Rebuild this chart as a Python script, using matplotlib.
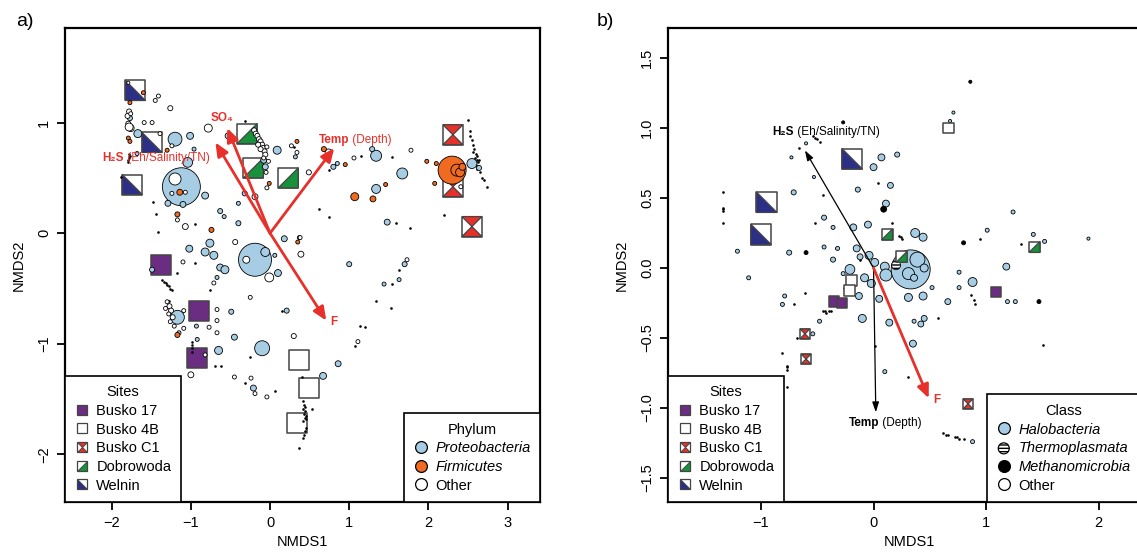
import numpy
import matplotlib
matplotlib.use("Agg")
from matplotlib import pyplot
from matplotlib.lines import Line2D
from matplotlib.legend_handler import HandlerTuple

pyplot.rcParams['font.family'] = ['Liberation Sans', 'DejaVu Sans']

# -----------------------------------------------------------------------------
# colours
PURPLE = '#6b2d82'
NAVY = '#2b2f86'
GREEN = '#17913c'
RED = '#e8302a'
ORANGE = '#f06a21'
BLUE = '#a6cde4'
EDGE = '#444444'

# -----------------------------------------------------------------------------
# panel a) bacteria -- sites (NMDS1, NMDS2)
a_busko17 = [(-1.38, -0.29), (-0.90, -0.70), (-0.92, -1.13)]
a_busko4b = [(0.37, -1.15), (0.49, -1.40), (0.34, -1.72)]
a_buskoc1 = [(2.31, 0.89), (2.31, 0.42), (2.55, 0.06)]
a_dobrowoda = [(-0.29, 0.90), (-0.21, 0.59), (0.23, 0.50)]
a_welnin = [(-1.70, 1.29), (-1.49, 0.82), (-1.74, 0.44)]

# OTUs (NMDS1, NMDS2, relative abundance)
a_proteo = [(-1.77, 1.04, 1.6), (-1.67, 0.90, 4), (-1.20, 0.85, 12), (-1.01, 0.88, 3),
            (-0.53, 0.88, 2.2), (-1.68, 0.72, 1), (-0.96, 0.76, 1), (-1.04, 0.64, 6),
            (-1.12, 0.42, 90), (-1.29, 0.27, 2.2), (-1.10, 0.26, 2.2), (-0.82, 0.34, 3),
            (-0.63, 0.20, 1.6), (-0.58, 0.15, 1), (-0.40, 0.09, 1.6), (-0.76, -0.09, 4),
            (-0.82, -0.17, 4), (-0.71, -0.20, 4), (-1.02, -0.14, 3), (-0.63, -0.31, 3),
            (-0.57, -0.33, 4), (-1.49, -0.33, 1.6), (-0.19, -0.24, 68), (-0.06, -0.17, 5),
            (0.10, -0.36, 3), (0.06, -0.20, 1), (0.18, -0.05, 2.2), (1.00, -0.28, 1.6),
            (0.09, 0.75, 4), (-0.08, 0.66, 2.2), (-0.06, 0.60, 2.2), (-0.32, 0.36, 1.6),
            (-0.40, 0.27, 1), (0.85, 0.63, 1), (0.80, 0.60, 1.6), (0.32, 0.69, 1),
            (1.34, 0.70, 7.5), (1.29, 0.76, 1.6), (1.67, 0.54, 7.5), (1.34, 0.40, 5),
            (1.48, 0.10, 2.2), (2.55, 0.63, 6.2), (2.64, 0.59, 1.6), (1.70, -0.28, 1.6),
            (1.63, -0.42, 1), (1.44, -0.46, 1), (0.86, -1.18, 2.2), (0.67, -1.29, 3),
            (0.21, -0.70, 1.6), (-0.10, -1.04, 14), (-1.17, -0.76, 12), (-1.15, -0.90, 1),
            (-0.93, -0.84, 1), (-0.92, -0.96, 1), (-0.49, -0.71, 1.6), (-0.45, -0.94, 2.2),
            (-0.65, -1.06, 4), (-0.21, -1.40, 2.2), (-0.67, -0.40, 1), (0.37, -0.04, 1)]
a_firmi = [(-1.60, 1.27, 1), (-1.77, 1.18, 1), (-1.79, 0.86, 1), (-1.77, 0.83, 1),
           (-1.30, 0.75, 1), (-1.14, 0.37, 2.2), (-1.17, 0.17, 1.6), (-0.74, 0.03, 1.6),
           (0.35, -0.08, 1), (-0.01, 0.45, 1), (0.34, 0.83, 1), (0.68, 0.76, 1.6),
           (0.95, 0.62, 1), (1.07, 0.33, 4), (1.30, 0.31, 2.2), (1.46, 0.44, 1),
           (1.98, 0.65, 1), (2.10, 0.63, 1), (2.08, 0.45, 1), (2.30, 0.57, 49),
           (2.36, 0.57, 9), (2.40, 0.55, 5), (2.43, 0.60, 3), (-1.17, -0.92, 1.6)]
a_other = [(-1.79, 1.36, 0.6), (-1.45, 1.20, 1), (-1.41, 1.24, 1), (-1.26, 1.13, 1.6),
           (-1.78, 1.10, 1.6), (-1.79, 0.99, 1.6), (-1.76, 0.95, 3), (-1.78, 0.96, 4),
           (-1.59, 1.00, 1), (-1.49, 1.00, 1), (-1.39, 0.90, 1), (-0.78, 0.95, 4),
           (-1.24, 0.79, 1), (-1.20, 0.49, 9), (-1.07, 0.37, 1), (-1.24, 0.36, 1),
           (-1.17, 0.12, 1), (-1.07, 0.06, 2.2), (-0.44, -0.08, 1.6), (-1.10, -0.26, 1),
           (-0.30, -0.24, 3), (-0.01, -0.40, 5), (0.39, -0.19, 2.2), (0.38, -0.04, 1),
           (-0.04, 0.41, 1), (-0.19, 0.33, 2.2), (0.34, 0.73, 1), (0.27, 0.79, 1),
           (0.49, 0.55, 1.6), (1.06, 0.68, 1), (0.74, 0.73, 3), (1.78, 0.75, 1),
           (2.41, 0.42, 1), (1.73, -0.24, 1), (1.11, -0.98, 1), (0.30, -0.93, 1.6),
           (-0.04, -1.48, 1), (-0.25, -0.58, 1), (-1.09, -0.70, 1), (-1.09, -0.86, 1),
           (-0.77, -0.85, 1), (-0.67, -0.79, 1), (-0.67, -0.69, 1), (-0.67, -0.90, 1),
           (-0.82, -1.10, 1), (-1.00, -1.28, 2.2), (-0.45, -1.30, 1), (-0.24, -1.31, 1),
           (-0.19, -1.45, 1), (-0.71, -0.45, 1),
           (-0.20, 0.93, 1.6), (-0.18, 0.90, 1.6), (-0.16, 0.88, 1.6), (-0.14, 0.85, 1.6),
           (-0.12, 0.83, 1.6), (-0.10, 0.80, 1.6), (-0.09, 0.77, 1.6), (-0.07, 0.74, 1.6),
           (-0.06, 0.71, 1.6), (-0.12, 0.76, 1.6), (-0.15, 0.80, 1.6), (-0.04, 0.78, 1),
           (-0.08, 0.68, 1), (-0.02, 0.65, 1), (-0.05, 0.55, 1),
           (-1.30, -0.62, 1), (-1.27, -0.66, 1.6), (-1.25, -0.70, 1.6), (-1.28, -0.73, 1),
           (-1.23, -0.76, 1.6), (-1.26, -0.80, 1), (-1.21, -0.84, 1), (-1.32, -0.68, 1),
           (-1.80, 1.06, 1.6), (-1.76, 1.08, 1)]
# rare OTUs (shown as dots)
a_trace = [(-0.32, 1.01), (-1.88, 0.51), (-1.48, 0.28), (-1.44, 0.17), (-1.41, 0.01),
           (-0.95, 0.08), (-0.95, -0.27), (-1.17, -0.36), (0.62, 0.22), (0.74, 0.15),
           (0.30, 0.78), (0.74, 0.57), (1.15, 0.70), (1.54, 0.69), (1.59, 0.09),
           (1.77, 0.05), (2.20, 0.16), (1.63, -0.33), (1.54, -0.46), (1.34, -0.61),
           (1.53, -0.68), (1.14, -0.84), (1.20, -0.85), (1.07, -1.02), (0.40, -1.30),
           (0.15, -0.70), (0.06, -1.43), (-0.76, -0.51), (-1.28, -0.61), (-0.69, -1.20),
           (-0.62, -1.20), (-0.32, -1.35), (-0.25, -1.12), (0.37, -1.94), (0.53, -1.59),
           (-1.79, 0.66), (-1.78, 0.68), (-1.77, 0.70), (-1.78, 0.72), (-1.80, 0.64),
           (-1.36, -0.42), (-1.34, -0.44), (-1.32, -0.45), (-1.30, -0.47), (-1.28, -0.48),
           (-1.26, -0.50), (-1.24, -0.51), (-0.98, -0.98), (-0.98, -1.01), (-0.98, -1.04),
           (-0.98, -1.07), (0.42, -1.52), (0.43, -1.55), (0.44, -1.57), (0.42, -1.59),
           (0.44, -1.61), (0.43, -1.63), (0.45, -1.65), (0.44, -1.67), (0.42, -1.70),
           (0.46, -1.68), (0.45, -1.76), (0.44, -1.79), (0.43, -1.82), (0.42, -1.85),
           (2.50, 1.02), (2.52, 0.92), (2.53, 0.88), (2.55, 0.84), (2.56, 0.80),
           (2.58, 0.76), (2.57, 0.73), (2.60, 0.72), (2.59, 0.68), (2.62, 0.70),
           (2.61, 0.66), (2.63, 0.64), (2.60, 0.62), (2.64, 0.66), (2.62, 0.58),
           (2.65, 0.55), (2.68, 0.50), (2.70, 0.48), (2.74, 0.42)]

# environmental vectors (envfit)
a_env_names = ['SO4', 'H2S', 'Temp', 'F']
a_env_x = [-0.54, -0.69, 0.81, 0.71]
a_env_y = [0.95, 0.82, 0.77, -0.79]

# -----------------------------------------------------------------------------
# panel b) archaea -- sites (NMDS1, NMDS2, archaeal share)
b_busko17 = [(-0.35, -0.24, 0.15), (-0.28, -0.25, 0.15), (1.09, -0.17, 0.15)]
b_busko4b = [(0.67, 1.00, 0.2), (-0.20, -0.09, 0.2), (-0.21, -0.16, 0.2)]
b_buskoc1 = [(-0.61, -0.47, 0.1), (-0.60, -0.65, 0.1), (0.84, -0.97, 0.1)]
b_dobrowoda = [(0.12, 0.24, 0.2), (0.25, 0.08, 0.2), (1.43, 0.15, 0.2)]
b_welnin = [(-0.19, 0.78, 1.0), (-0.95, 0.47, 1.0), (-1.00, 0.24, 1.0)]

b_halo = [(0.71, 1.11, 0.6), (0.68, 1.05, 0.6), (-0.60, 0.89, 0.6), (-0.73, 0.79, 0.6),
          (-0.53, 0.65, 0.6), (0.07, 0.79, 3), (0.21, 0.81, 1.6), (0.00, 0.72, 3),
          (0.15, 0.59, 2.2), (-0.14, 0.56, 1.6), (-0.71, 0.54, 1.6), (0.11, 0.46, 3),
          (-0.44, 0.36, 1.6), (-0.36, 0.29, 1), (-0.18, 0.29, 3), (-0.05, 0.31, 3),
          (0.37, 0.25, 5), (0.44, 0.22, 4), (-1.21, 0.12, 1), (-1.11, -0.07, 1),
          (-0.75, 0.11, 1.6), (-0.44, 0.15, 1), (-0.32, 0.14, 1), (-0.36, 0.06, 1.6),
          (-0.15, 0.14, 3), (-0.12, 0.08, 2.2), (-0.04, 0.09, 4), (0.01, 0.04, 4),
          (-0.21, -0.01, 6), (-0.27, -0.04, 1), (-0.08, -0.07, 4), (-0.02, -0.11, 4),
          (0.10, 0.01, 5), (0.11, -0.05, 9), (0.33, -0.01, 95), (0.39, 0.06, 14),
          (0.31, -0.04, 9), (0.36, -0.07, 3), (0.45, 0.00, 4), (0.52, -0.14, 1),
          (0.76, -0.03, 1), (0.76, -0.14, 1), (0.66, -0.24, 2.2), (0.44, -0.20, 4),
          (0.31, -0.21, 4), (0.05, -0.22, 3), (-0.13, -0.20, 3), (-0.79, -0.20, 1),
          (-0.81, -0.26, 1), (-0.10, -0.36, 4), (0.14, -0.39, 3), (0.36, -0.38, 1),
          (0.42, -0.40, 2.2), (0.45, -0.36, 2.2), (0.35, -0.54, 3), (0.10, -0.74, 1),
          (0.88, -0.10, 5), (1.18, 0.01, 3), (1.19, -0.24, 1), (1.26, -0.24, 1),
          (-0.48, -0.38, 1), (-0.54, -0.47, 1), (1.24, 0.40, 1), (1.01, 0.27, 1),
          (1.42, 0.24, 1), (1.52, 0.19, 1), (1.91, 0.21, 0.6), (0.88, -1.24, 1)]
b_thermo = [(0.20, 0.02, 5)]
b_methano = [(0.09, 0.42, 2.2), (0.86, 1.33, 0.6), (1.47, -0.24, 1), (0.80, 0.18, 1),
             (-0.60, 0.11, 1), (-0.27, 1.04, 0.6)]
b_trace = [(-0.54, 0.94), (-0.52, 0.93), (-0.50, 0.92), (-0.48, 0.90), (-0.66, 0.86),
           (-1.34, 0.54), (-1.34, 0.43), (-1.34, 0.42), (-1.34, 0.41), (-1.34, 0.32),
           (-0.45, 0.52), (-0.52, 0.32), (0.04, 0.61), (0.16, 0.32), (0.24, 0.22),
           (0.25, 0.21), (0.23, 0.23), (-0.33, 0.14), (-0.12, 0.06), (-0.61, -0.18),
           (-0.42, -0.32), (-0.26, -0.14), (-0.71, -0.26), (-0.45, -0.31), (-0.43, -0.31),
           (-0.40, -0.31), (-0.38, -0.31), (-0.68, -0.50), (-0.81, -0.61), (-0.77, -0.70),
           (-0.77, -0.71), (-0.77, -0.73), (-0.77, -0.85), (0.57, -0.36), (0.01, -0.56),
           (0.31, -0.78), (0.87, -0.19), (0.89, -0.23), (0.90, -0.26), (1.51, -0.55),
           (1.31, 0.17), (0.95, 0.21), (0.62, -1.18), (0.64, -1.19), (0.66, -1.19),
           (0.72, -1.21), (0.74, -1.21), (0.76, -1.22), (0.80, -1.22)]

b_env_names = ['H2S', 'Temp', 'F']
b_env_x = [-0.61, 0.02, 0.49]
b_env_y = [0.84, -1.03, -0.93]

# -----------------------------------------------------------------------------
TRI_DOBRO = [(-1, -1), (1, -1), (1, 1), (-1, -1)]
TRI_WELNIN = [(-1, 1), (-1, -1), (1, -1), (-1, 1)]
BOWTIE = [(-1, 1), (1, 1), (0, 0), (1, -1), (-1, -1), (0, 0), (-1, 1)]

SITE_STYLE = {
    'Busko 17': (PURPLE, None, None),
    'Busko 4B': ('white', None, None),
    'Busko C1': ('white', BOWTIE, RED),
    'Dobrowoda': ('white', TRI_DOBRO, GREEN),
    'Welnin': ('white', TRI_WELNIN, NAVY),
}

def px2pt(d):
    return (0.72 * d) ** 2

def otu_size(ab):
    return px2pt(4.0 * numpy.sqrt(numpy.asarray(ab, dtype=float)))

def draw_sites(ax, name, xs, ys, sides, zorder=2):
    base, tri, col = SITE_STYLE[name]
    s = px2pt(numpy.asarray(sides))
    ax.scatter(xs, ys, s=s, marker='s', c=base, edgecolors=EDGE, linewidths=1.1, zorder=zorder)
    if tri is not None:
        ax.scatter(xs, ys, s=s, marker=tri, c=col, edgecolors=EDGE, linewidths=0.9, zorder=zorder)

def draw_otus(ax, pts, color, zorder=3, hatch=None):
    pts = numpy.array(pts)
    ax.scatter(pts[:, 0], pts[:, 1], s=otu_size(pts[:, 2]), c=color, edgecolors='black',
               linewidths=0.6, zorder=zorder, hatch=hatch)

def draw_trace(ax, pts):
    pts = numpy.array(pts)
    ax.scatter(pts[:, 0], pts[:, 1], s=3.5, c='black', linewidths=0, zorder=3)

def site_handles():
    h = []
    for name in ['Busko 17', 'Busko 4B', 'Busko C1', 'Dobrowoda', 'Welnin']:
        base, tri, col = SITE_STYLE[name]
        sq = Line2D([], [], ls='', marker='s', ms=7, mfc=base, mec=EDGE, mew=0.9)
        if tri is None:
            h.append(sq)
        else:
            tr = Line2D([], [], ls='', marker=tri, ms=7, mfc=col, mec=EDGE, mew=0.7)
            h.append((sq, tr))
    return h

def circle_handle(color):
    return Line2D([], [], ls='', marker='o', ms=8.5, mfc=color, mec='black', mew=0.9)

def style_axes(ax):
    for sp in ax.spines.values():
        sp.set_linewidth(1.6)
    ax.tick_params(direction='out', length=6, width=1.3, labelsize=10.5, pad=4)
    for lab in ax.get_yticklabels():
        lab.set_rotation(90)
        lab.set_va('center')
    ax.set_xlabel('NMDS1', fontsize=10.5, labelpad=4)
    ax.set_ylabel('NMDS2', fontsize=10.5, labelpad=8)

def legend_box(ax, handles, labels, title, loc, anchor):
    leg = ax.legend(handles, labels, title=title, loc=loc, bbox_to_anchor=anchor,
                    borderaxespad=0, fancybox=False, framealpha=1, edgecolor='black',
                    fontsize=10.5, title_fontsize=10.5, handlelength=1.0, handletextpad=0.5,
                    labelspacing=0.32, borderpad=0.65,
                    handler_map={tuple: HandlerTuple(ndivide=1)})
    leg.get_frame().set_linewidth(1.2)
    return leg

def env_arrow(ax, x, y, color, lw, hl, hw):
    ax.annotate('', xy=(x, y), xytext=(0, 0),
                arrowprops=dict(arrowstyle='-|>,head_length=%g,head_width=%g' % (hl, hw),
                                color=color, lw=lw, shrinkA=0, shrinkB=0, mutation_scale=10),
                zorder=5)

def env_label(ax, x, y, bold, rest, dx, dy, color, ha='right'):
    ax.annotate(bold, xy=(x, y), xytext=(dx, dy), textcoords='offset points',
                ha=ha, va='center', fontsize=8.5, fontweight='bold', color=color, zorder=6)
    if rest:
        ax.annotate(rest, xy=(x, y), xytext=(dx, dy), textcoords='offset points',
                    ha='left', va='center', fontsize=8.5, color=color, zorder=6)

# -----------------------------------------------------------------------------
fig = pyplot.figure(figsize=(11.37, 5.6), dpi=100, facecolor='w')

# ---- panel a
ax1 = fig.add_axes([65 / 1137, 58 / 560, 475 / 1137, 474 / 560])
ax1.set_xlim(-2.59, 3.41)
ax1.set_ylim(-2.43, 1.855)
ax1.set_xticks([-2, -1, 0, 1, 2, 3])
ax1.set_yticks([-2, -1, 0, 1])

for name, pts in [('Busko 17', a_busko17), ('Busko 4B', a_busko4b), ('Busko C1', a_buskoc1),
                  ('Dobrowoda', a_dobrowoda), ('Welnin', a_welnin)]:
    p = numpy.array(pts)
    draw_sites(ax1, name, p[:, 0], p[:, 1], [20] * len(p))

draw_trace(ax1, a_trace)
draw_otus(ax1, a_proteo, BLUE)
draw_otus(ax1, a_other, 'white')
draw_otus(ax1, a_firmi, ORANGE)

for x, y in zip(a_env_x, a_env_y):
    env_arrow(ax1, x, y, RED, 2.0, 0.8, 0.35)
env_label(ax1, a_env_x[0], a_env_y[0], 'SO\u2084', '', -4, 7, RED, ha='center')
env_label(ax1, a_env_x[1], a_env_y[1], 'H\u2082S', ' (Eh/Salinity/TN)', -66, -11.5, RED)
env_label(ax1, a_env_x[2], a_env_y[2], 'Temp', ' (Depth)', 11, 6, RED)
env_label(ax1, a_env_x[3], a_env_y[3], 'F', '', 3, -1, RED, ha='left')

style_axes(ax1)
leg1 = legend_box(ax1, site_handles(), ['Busko 17', 'Busko 4B', 'Busko C1', 'Dobrowoda', 'Welnin'],
                  'Sites', 'lower left', (0, 0))
ax1.add_artist(leg1)
leg2 = legend_box(ax1, [circle_handle(BLUE), circle_handle(ORANGE), circle_handle('white')],
                  ['Proteobacteria', 'Firmicutes', 'Other'], 'Phylum', 'lower right', (1, 0))
leg2.get_texts()[0].set_fontstyle('italic')
leg2.get_texts()[1].set_fontstyle('italic')

fig.text(16 / 1137, 1 - 21 / 560, 'a)', fontsize=14, va='center', ha='left')

# ---- panel b
ax2 = fig.add_axes([668 / 1137, 58 / 560, 482 / 1137, 474 / 560])
ax2.set_xlim(-1.827, 2.457)
ax2.set_ylim(-1.671, 1.714)
ax2.set_xticks([-1, 0, 1, 2])
ax2.set_yticks([-1.5, -1.0, -0.5, 0.0, 0.5, 1.0, 1.5])

draw_trace(ax2, b_trace)
draw_otus(ax2, b_halo, BLUE)
draw_otus(ax2, b_methano, 'black')
draw_otus(ax2, b_thermo, 'white', hatch='-----')

for name, pts in [('Busko 17', b_busko17), ('Busko 4B', b_busko4b), ('Busko C1', b_buskoc1),
                  ('Dobrowoda', b_dobrowoda), ('Welnin', b_welnin)]:
    p = numpy.array(pts)
    draw_sites(ax2, name, p[:, 0], p[:, 1], 8.5 + 12 * p[:, 2], zorder=4)

env_arrow(ax2, b_env_x[0], b_env_y[0], 'black', 0.9, 0.6, 0.2)
env_arrow(ax2, b_env_x[1], b_env_y[1], 'black', 0.9, 0.6, 0.2)
env_arrow(ax2, b_env_x[2], b_env_y[2], RED, 2.0, 0.8, 0.35)
env_label(ax2, b_env_x[0], b_env_y[0], 'H\u2082S', ' (Eh/Salinity/TN)', -8, 13.5, 'black')
env_label(ax2, b_env_x[1], b_env_y[1], 'Temp', ' (Depth)', 2.5, -7.5, 'black')
env_label(ax2, b_env_x[2], b_env_y[2], 'F', '', 3, -1, RED, ha='left')

style_axes(ax2)
leg3 = legend_box(ax2, site_handles(), ['Busko 17', 'Busko 4B', 'Busko C1', 'Dobrowoda', 'Welnin'],
                  'Sites', 'lower left', (0, 0))
ax2.add_artist(leg3)
thermo_h = ax2.scatter([], [], s=px2pt(11), c='white', edgecolors='black', linewidths=0.9,
                       hatch='-----')
leg4 = legend_box(ax2, [circle_handle(BLUE), thermo_h, circle_handle('black'), circle_handle('white')],
                  ['Halobacteria', 'Thermoplasmata', 'Methanomicrobia', 'Other'], 'Class',
                  'lower left', ((987 - 668) / 482, 0))
for t in leg4.get_texts()[:3]:
    t.set_fontstyle('italic')

fig.text(597 / 1137, 1 - 21 / 560, 'b)', fontsize=14, va='center', ha='left')

pyplot.savefig('out.png', dpi=100)
